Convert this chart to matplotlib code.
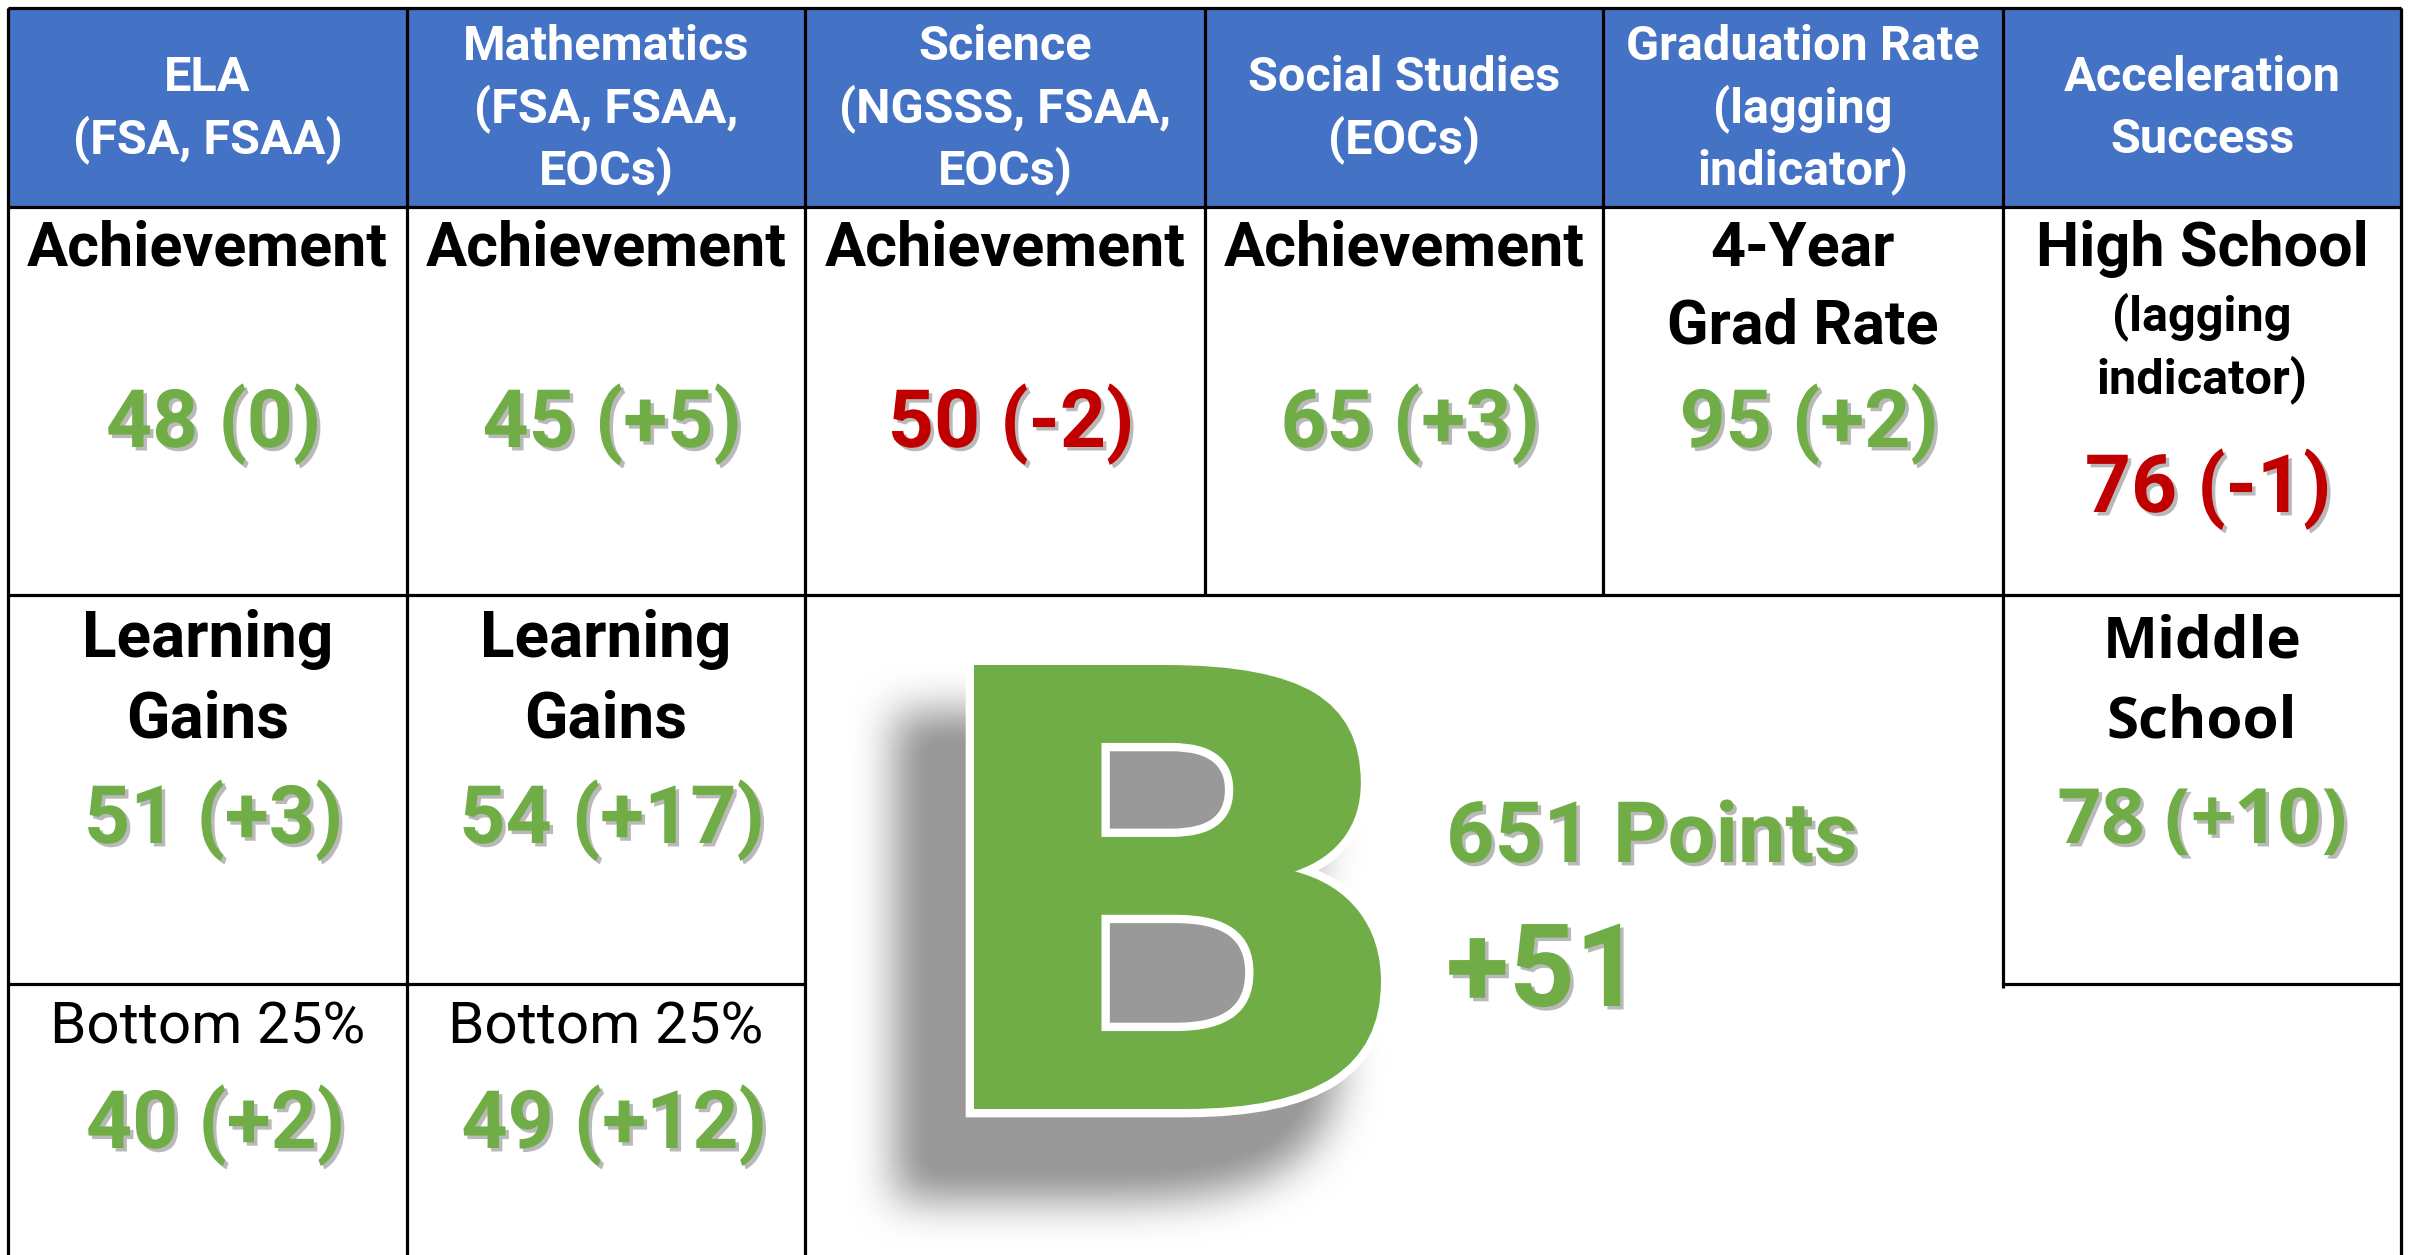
import matplotlib
matplotlib.use("Agg")
import matplotlib.pyplot as plt
import matplotlib.patheffects as pe
import numpy as np
from matplotlib.font_manager import FontProperties
from matplotlib.textpath import TextPath
from matplotlib.patches import PathPatch
from matplotlib.path import Path
from matplotlib.transforms import Affine2D

# ---- data ----
headers = ["ELA\n(FSA, FSAA)",
           "Mathematics\n(FSA, FSAA,\nEOCs)",
           "Science\n(NGSSS, FSAA,\nEOCs)",
           "Social Studies\n(EOCs)",
           "Graduation Rate\n(lagging\nindicator)",
           "Acceleration\nSuccess"]
row1_labels = ["Achievement", "Achievement", "Achievement", "Achievement",
               "4-Year\nGrad Rate", "High School"]
row1_scores = [48, 45, 50, 65, 95, 76]
row1_changes = [0, 5, -2, 3, 2, -1]
gains_scores = [51, 54]
gains_changes = [3, 17]
low25_scores = [40, 49]
low25_changes = [2, 12]
middle_score = 78
middle_change = 10
grade = "B"
total_points = 651
points_change = 51

# ---- style ----
BLUE = "#4472C4"
GREEN = "#70AD47"
RED = "#C00000"
FONT = "Roboto"
W, H = 2410, 1255

col_edges = [8, 407, 805, 1205, 1603, 2003, 2401]
row_edges = [8, 207, 595, 984, 1255]
centers = [(a + b) / 2 for a, b in zip(col_edges[:-1], col_edges[1:])]

shadow = [pe.SimplePatchShadow(offset=(2.5, -2.5), shadow_rgbFace="#808080", alpha=0.55),
          pe.Normal()]


def fmt(score, change):
    return f"{score} (0)" if change == 0 else f"{score} ({change:+d})"


fig = plt.figure(figsize=(W / 100, H / 100), dpi=100)
ax = fig.add_axes([0, 0, 1, 1])
ax.set_xlim(0, W)
ax.set_ylim(H, 0)
ax.axis("off")

# header background
ax.add_patch(plt.Rectangle((col_edges[0], row_edges[0]), col_edges[-1] - col_edges[0],
                           row_edges[1] - row_edges[0], color=BLUE, zorder=1))

# grid lines
lw = 2.3
ax.hlines([row_edges[0], row_edges[1], row_edges[2]], col_edges[0], col_edges[-1],
          color="black", lw=lw, zorder=5)
ax.hlines(row_edges[3], col_edges[0], col_edges[2], color="black", lw=lw, zorder=5)
ax.hlines(row_edges[3], col_edges[5], col_edges[6], color="black", lw=lw, zorder=5)
ax.vlines([col_edges[0], col_edges[1], col_edges[2], col_edges[6]], row_edges[0], H,
          color="black", lw=lw, zorder=5)
ax.vlines(col_edges[3:5], row_edges[0], row_edges[2], color="black", lw=lw, zorder=5)
ax.vlines(col_edges[5], row_edges[0], row_edges[3] + 4, color="black", lw=lw, zorder=5)

# header text
for cx, txt in zip(centers, headers):
    lines = txt.split("\n")
    n = len(lines)
    for i, line in enumerate(lines):
        ax.text(cx, 122 + (i - (n - 1) / 2) * 62, line, ha="center", va="baseline",
                fontsize=35, color="white", family=FONT, weight="semibold", zorder=6)

# row 1
for i, (cx, lab, s, c) in enumerate(zip(centers, row1_labels, row1_scores, row1_changes)):
    for j, line in enumerate(lab.split("\n")):
        ax.text(cx, 266 + j * 78, line, ha="center", va="baseline", fontsize=44,
                color="black", family=FONT, weight="bold", zorder=6)
    y = 447
    if i == 5:
        ax.text(cx, 330, "(lagging", ha="center", va="baseline", fontsize=35,
                color="black", family=FONT, weight="semibold", zorder=6)
        ax.text(cx, 393, "indicator)", ha="center", va="baseline", fontsize=35,
                color="black", family=FONT, weight="semibold", zorder=6)
        y = 512
    ax.text(cx + 6, y, fmt(s, c), ha="center", va="baseline", fontsize=58,
            color=RED if c < 0 else GREEN, family=FONT, weight="bold",
            path_effects=shadow, zorder=6)

# learning gains and bottom 25%
for cx, s, c, s2, c2 in zip(centers[:2], gains_scores, gains_changes,
                             low25_scores, low25_changes):
    ax.text(cx, 657, "Learning", ha="center", va="baseline", fontsize=46,
            color="black", family=FONT, weight="bold", zorder=6)
    ax.text(cx, 737, "Gains", ha="center", va="baseline", fontsize=46,
            color="black", family=FONT, weight="bold", zorder=6)
    ax.text(cx + 6, 843, fmt(s, c), ha="center", va="baseline", fontsize=58,
            color=GREEN, family=FONT, weight="bold", path_effects=shadow, zorder=6)
    ax.text(cx, 1043, "Bottom 25%", ha="center", va="baseline", fontsize=42,
            color="black", family=FONT, weight="normal", zorder=6)
    ax.text(cx + 8, 1148, fmt(s2, c2), ha="center", va="baseline", fontsize=58,
            color=GREEN, family=FONT, weight="bold", path_effects=shadow, zorder=6)

# middle school
cx = centers[5]
ax.text(cx, 657, "Middle", ha="center", va="baseline", fontsize=42,
        color="black", family="Open Sans", weight="bold", zorder=6)
ax.text(cx, 737, "School", ha="center", va="baseline", fontsize=42,
        color="black", family="Open Sans", weight="bold", zorder=6)
ax.text(cx, 843, fmt(middle_score, middle_change), ha="center", va="baseline",
        fontsize=55, color=GREEN, family="Open Sans", weight="bold",
        path_effects=shadow, zorder=6)

# big grade letter
tp = TextPath((0, 0), grade, size=100, prop=FontProperties(family="DejaVu Sans", weight="bold"))
bb = tp.get_extents()


def fit(path, x0, x1, y0, y1):
    t = (Affine2D().translate(-bb.x0, -bb.y0)
         .scale((x1 - x0) / bb.width, -(y1 - y0) / bb.height)
         .translate(x0, y1))
    return t.transform_path(path)


letter = fit(tp, 974, 1381, 665, 1109)

# blurred shadow of the letter outline
polys = tp.to_polygons()
outer = max(polys, key=lambda p: abs(np.sum(p[:-1, 0] * p[1:, 1] - p[1:, 0] * p[:-1, 1])))
shadow_path = fit(Path(outer), 895, 1339, 712, 1200)
sx0, sx1, sy0, sy1 = 780, 1460, 600, 1255
xs = np.arange(sx0, sx1) + 0.5
ys = np.arange(sy0, sy1) + 0.5
X, Y = np.meshgrid(xs, ys)
mask = shadow_path.contains_points(np.column_stack([X.ravel(), Y.ravel()])).reshape(X.shape)
mask = mask.astype(float)
k = np.ones(41) / 41
for _ in range(3):
    mask = np.apply_along_axis(lambda r: np.convolve(r, k, mode="same"), 0, mask)
    mask = np.apply_along_axis(lambda r: np.convolve(r, k, mode="same"), 1, mask)
rgba = np.zeros(mask.shape + (4,))
rgba[..., :3] = 0.6
rgba[..., 3] = np.clip(mask * 1.1, 0, 1)
ax.imshow(rgba, extent=(sx0, sx1, sy1, sy0), zorder=2, interpolation="bilinear", aspect="auto")

ax.add_patch(PathPatch(letter, facecolor=GREEN, edgecolor="white", lw=12, zorder=3))
ax.add_patch(PathPatch(letter, facecolor=GREEN, edgecolor="none", zorder=4))

ax.text(1446, 862, f"{total_points} Points", ha="left", va="baseline", fontsize=61,
        color=GREEN, family=FONT, weight="bold", path_effects=shadow, zorder=6)
ax.text(1446, 1006, f"{points_change:+d}", ha="left", va="baseline", fontsize=83,
        color=GREEN, family=FONT, weight="bold", path_effects=shadow, zorder=6)

ax.set_xlim(0, W)
ax.set_ylim(H, 0)
fig.savefig("out.png", dpi=100)
